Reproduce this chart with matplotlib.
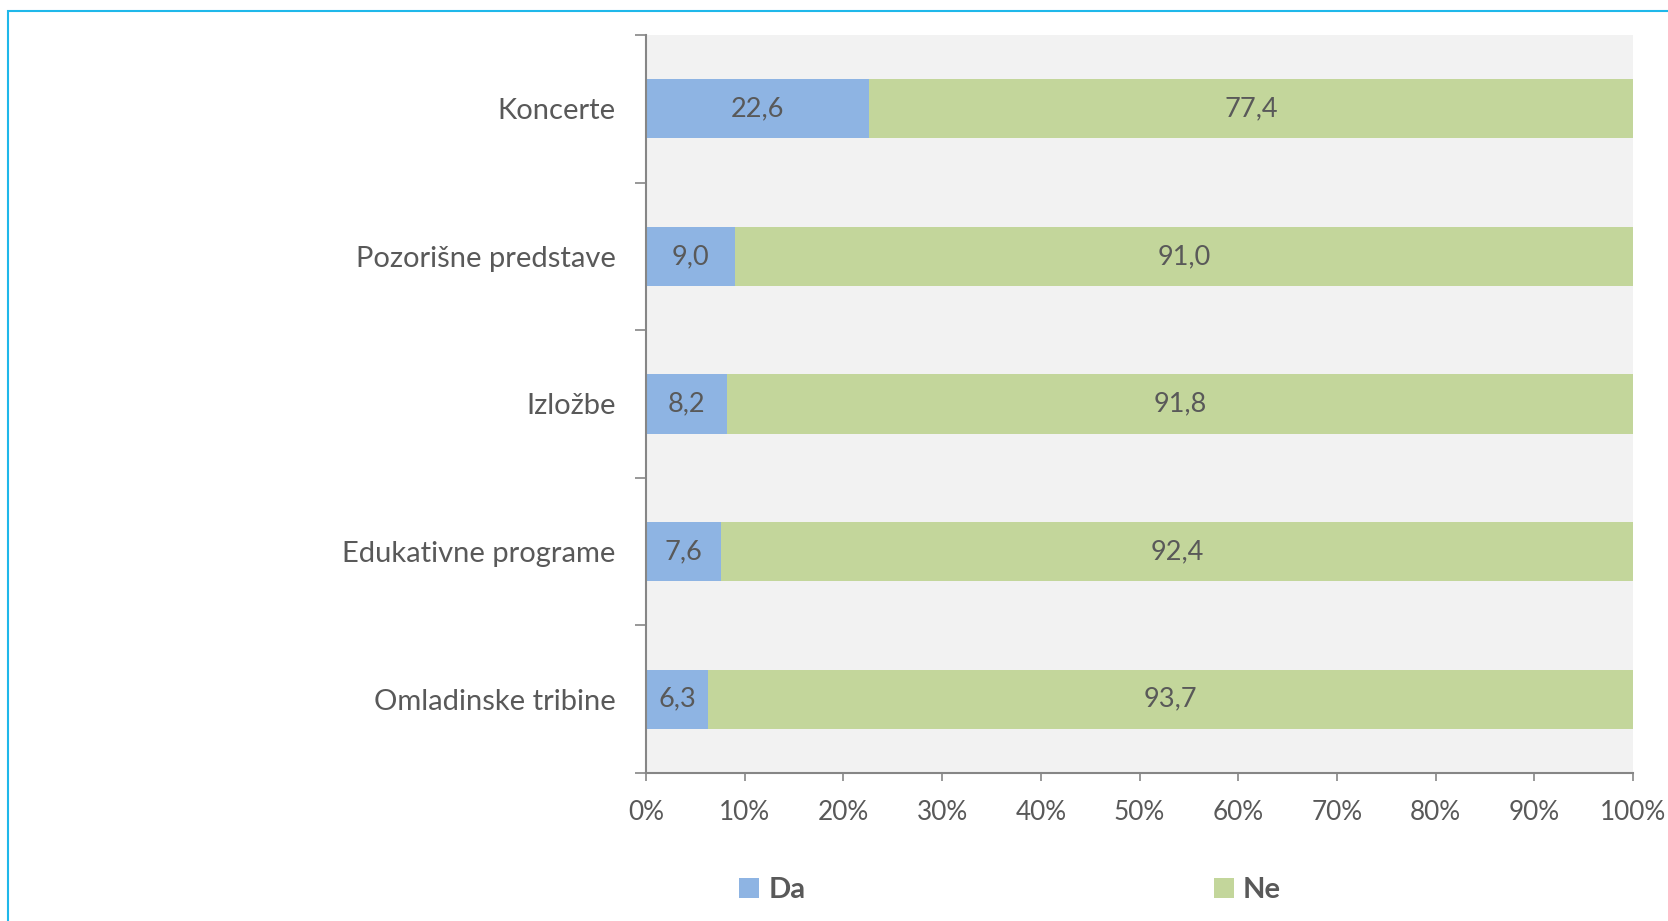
import matplotlib
matplotlib.use("Agg")
import matplotlib.pyplot as plt
from matplotlib.patches import Rectangle, Patch
from matplotlib.ticker import FixedLocator, NullFormatter

plt.rcParams['font.family'] = ['Lato', 'DejaVu Sans']

categories = ["Koncerte", "Pozorišne predstave", "Izložbe", "Edukativne programe", "Omladinske tribine"]
da = [22.6, 9.0, 8.2, 7.6, 6.3]
ne = [77.4, 91.0, 91.8, 92.4, 93.7]
series_names = ["Da", "Ne"]
xticks = [0, 10, 20, 30, 40, 50, 60, 70, 80, 90, 100]
xticklabels = [f"{t}%" for t in xticks]

c_da = "#8EB4E3"
c_ne = "#C3D69B"
txt = "#595959"
axc = "#868686"

W, H = 1668, 921
fig = plt.figure(figsize=(W / 100, H / 100), dpi=100)
fig.patch.set_facecolor("white")

# cyan frame
fig.patches.append(Rectangle((8 / W, -0.05), 1.2, 1 - 11 / H + 0.05, transform=fig.transFigure,
                             fill=False, edgecolor="#1FB8EA", linewidth=1.5))

left, right, top, bottom = 646, 1633, 35, 773
ax = fig.add_axes([left / W, 1 - bottom / H, (right - left) / W, (bottom - top) / H])
ax.set_facecolor("#F2F2F2")

y = list(range(len(categories)))
b1 = ax.barh(y, da, height=0.4, color=c_da, label=series_names[0])
b2 = ax.barh(y, ne, left=da, height=0.4, color=c_ne, label=series_names[1])

fs_cat = 21
fs_num = 19.5
fs_x = 18.8
ax.bar_label(b1, labels=[f"{v:.1f}".replace(".", ",") for v in da], label_type="center",
             color=txt, fontsize=fs_num)
ax.bar_label(b2, labels=[f"{v:.1f}".replace(".", ",") for v in ne], label_type="center",
             color=txt, fontsize=fs_num)

ax.set_xlim(0, 100)
ax.set_ylim(len(categories) - 0.5, -0.5)

ax.set_xticks(xticks)
ax.set_xticklabels(xticklabels, fontsize=fs_x, color=txt)

ax.set_yticks(y)
ax.set_yticklabels(categories, fontsize=fs_cat, color=txt)
ax.tick_params(axis="y", which="major", length=0, pad=22)
ax.yaxis.set_minor_locator(FixedLocator([i - 0.5 for i in range(len(categories) + 1)]))
ax.yaxis.set_minor_formatter(NullFormatter())
ax.tick_params(axis="y", which="minor", length=8, width=1.2, color=axc, direction="out")
ax.tick_params(axis="x", which="major", length=6, width=1.2, color=axc, direction="out", pad=13.5)

for s in ["top", "right"]:
    ax.spines[s].set_visible(False)
for s in ["left", "bottom"]:
    ax.spines[s].set_color(axc)
    ax.spines[s].set_linewidth(1.5)

handles = [Patch(facecolor=c_da), Patch(facecolor=c_ne)]
leg = fig.legend(handles, series_names, loc="center", bbox_to_anchor=(0.6055, 1 - 890 / H),
                 ncol=2, frameon=False, handlelength=0.7, handleheight=0.7, handletextpad=0.3,
                 columnspacing=14.0, prop={"size": fs_cat, "weight": "bold"})
for t in leg.get_texts():
    t.set_color(txt)

fig.savefig("out.png", dpi=100)
